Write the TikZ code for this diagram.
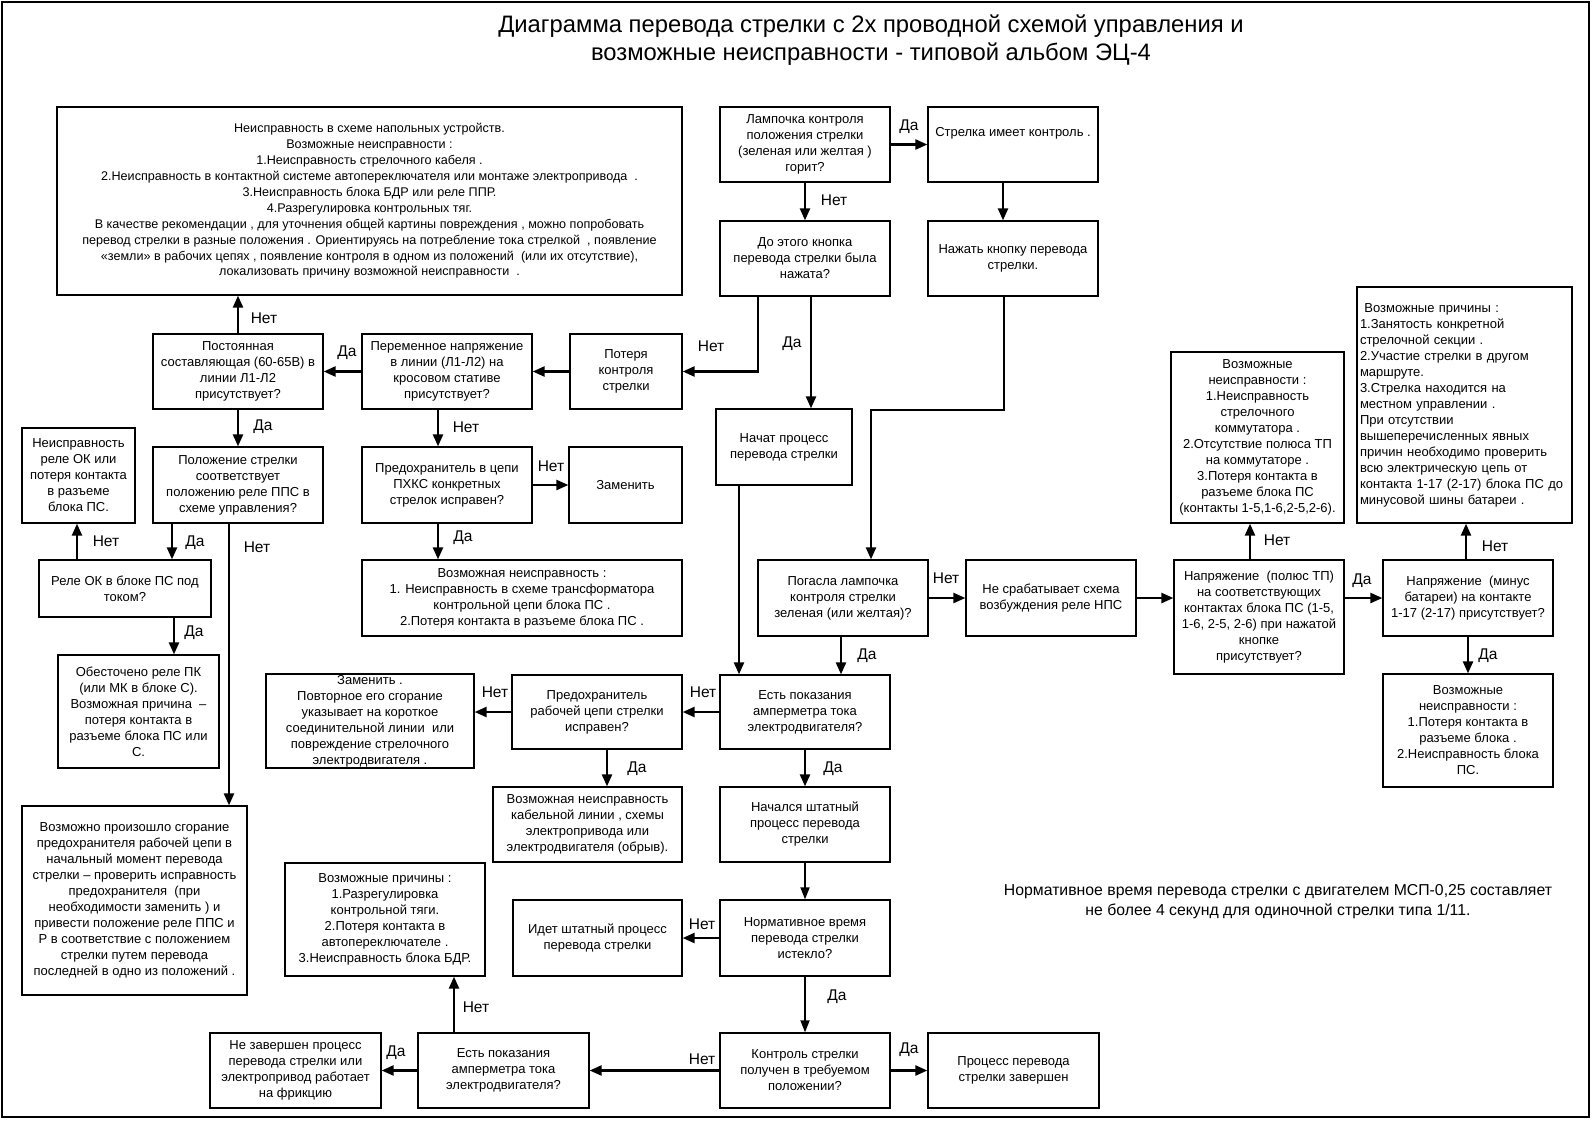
\documentclass[tikz,border=0pt]{standalone}
\usepackage{fontspec}
\setmainfont{Liberation Sans}
\usetikzlibrary{arrows.meta}

\newcommand{\boxfont}{\fontsize{13}{16}\selectfont}
\newcommand{\smallboxfont}{\fontsize{12.6}{15.9}\selectfont}
\newcommand{\labfont}{\fontsize{15.5}{18}\selectfont}
\newcommand{\titlefont}{\fontsize{23.8}{28}\selectfont}
\newcommand{\notefont}{\fontsize{15.8}{19.5}\selectfont}

\begin{document}
\begin{tikzpicture}[x=1pt, y=-1pt,
  box/.style={draw, line width=1.3pt, align=center, inner sep=2pt, font=\boxfont,
    minimum width=170, minimum height=75},
  arr/.style={line width=2.4pt, -{Triangle[length=12pt,width=10pt]}},
  arrthin/.style={line width=1.8pt, -{Triangle[length=12pt,width=9pt]}},
  lab/.style={font=\labfont, inner sep=0pt}]
\useasboundingbox (0,0) rectangle (1592,1120);
% Frame and title
\draw[line width=1.4pt] (2,2) rectangle (1589,1117);
\node[font=\titlefont, align=center] (title) at (871,40)
  {Диаграмма перевода стрелки с 2х проводной схемой управления и\\
   возможные неисправности - типовой альбом ЭЦ-4};

% Top row
\node[box, minimum width=625, minimum height=188, font=\smallboxfont] (fault) at (369.5,201)
  {Неисправность в схеме напольных устройств.\\
   Возможные неисправности :\\
   1.Неисправность стрелочного кабеля .\\
   2.Неисправность в контактной системе автопереключателя или монтаже электропривода \ .\\
   3.Неисправность блока БДР или реле ППР.\\
   4.Разрегулировка контрольных тяг.\\
   В качестве рекомендации , для уточнения общей картины повреждения , можно попробовать\\
   перевод стрелки в разные положения . Ориентируясь на потребление тока стрелкой \ , появление\\
   «земли» в рабочих цепях , появление контроля в одном из положений \ (или их отсутствие),\\
   локализовать причину возможной неисправности \ .};
\node[box] (lamp) at (805,144.5) {Лампочка контроля\\ положения стрелки\\ (зеленая или желтая )\\ горит?};
\node[box] (hasctrl) at (1013,144.5) {Стрелка имеет контроль .\\[10pt]};
\node[box] (pressed) at (805,258.5) {До этого кнопка\\ перевода стрелки была\\ нажата?};
\node[box] (press) at (1013,258.5) {Нажать кнопку перевода\\ стрелки.};

% Left part
\node[box] (dcline) at (238,371.5) {Постоянная\\ составляющая (60-65В) в\\ линии Л1-Л2\\ присутствует?};
\node[box] (acline) at (447,371.5) {Переменное напряжение\\ в линии (Л1-Л2) на\\ кросовом стативе\\ присутствует?};
\node[box, minimum width=112] (lost) at (626,371.5) {Потеря\\ контроля\\ стрелки};
\node[box, minimum width=113, minimum height=95] (okfault) at (78.5,475.5) {Неисправность\\ реле ОК или\\ потеря контакта\\ в разъеме\\ блока ПС.};
\node[box, minimum height=76] (position) at (238,485) {Положение стрелки\\ соответствует\\ положению реле ППС в\\ схеме управления?};
\node[box, minimum height=76] (fuse) at (447,485) {Предохранитель в цепи\\ ПХКС конкретных\\ стрелок исправен?};
\node[box, minimum width=113, minimum height=76] (replace) at (625.5,485) {Заменить};
\node[box, minimum width=172, minimum height=57] (okrelay) at (125,588.5) {Реле ОК в блоке ПС под\\ током?};
\node[box, minimum width=320, minimum height=76] (trafo) at (522,598)
  {Возможная неисправность :\\ 1. Неисправность в схеме трансформатора\\ контрольной цепи блока ПС .\\ 2.Потеря контакта в разъеме блока ПС .};
\node[box, minimum width=161, minimum height=113] (pk) at (138.5,711.5)
  {Обесточено реле ПК\\ (или МК в блоке С).\\ Возможная причина \ –\\ потеря контакта в\\ разъеме блока ПС или\\ С.};
\node[box, minimum width=208, minimum height=94, inner ysep=0.5pt] (replace2) at (370,721)
  {Заменить .\\ Повторное его сгорание\\ указывает на короткое\\ соединительной линии \ или\\ повреждение стрелочного\\ электродвигателя .};
\node[box, minimum width=225, minimum height=189] (burnt) at (134.5,900.5)
  {Возможно произошло сгорание\\ предохранителя рабочей цепи в\\ начальный момент перевода\\ стрелки – проверить исправность\\
   предохранителя \ (при\\ необходимости заменить ) и\\ привести положение реле ППС и\\ Р в соответствие с положением\\
   стрелки путем перевода\\ последней в одно из положений .};
\node[box, minimum width=200, minimum height=113] (rods) at (385,919.5)
  {Возможные причины :\\ 1.Разрегулировка\\ контрольной тяги.\\ 2.Потеря контакта в\\ автопереключателе .\\ 3.Неисправность блока БДР.};

% Middle column
\node[box, minimum width=136, minimum height=76] (started) at (784,447) {Начат процесс\\ перевода стрелки};
\node[box, minimum height=76] (lampoff) at (843,598) {Погасла лампочка\\ контроля стрелки\\ зеленая (или желтая)?};
\node[box, minimum height=74] (workfuse) at (597,712) {Предохранитель\\ рабочей цепи стрелки\\ исправен?};
\node[box, minimum height=74] (amp) at (805,712) {Есть показания\\ амперметра тока\\ электродвигателя?};
\node[box, minimum width=189] (cable) at (587.5,824.5)
  {Возможная неисправность\\ кабельной линии , схемы\\ электропривода или\\ электродвигателя (обрыв).};
\node[box] (normal) at (805,824.5) {Начался штатный\\ процесс перевода\\ стрелки};
\node[box, minimum width=169, minimum height=76] (going) at (597.5,938) {Идет штатный процесс\\ перевода стрелки};
\node[box, minimum height=76] (time) at (805,938) {Нормативное время\\ перевода стрелки\\ истекло?};
\node[box, minimum width=171] (friction) at (295.5,1070.5) {Не завершен процесс\\ перевода стрелки или\\ электропривод работает\\ на фрикцию};
\node[box, minimum width=171] (amp2) at (503.5,1070.5) {Есть показания\\ амперметра тока\\ электродвигателя?};
\node[box] (check) at (805,1070.5) {Контроль стрелки\\ получен в требуемом\\ положении?};
\node[box, minimum width=171] (done) at (1013.5,1070.5) {Процесс перевода\\ стрелки завершен};

% Right part
\node[box, minimum height=76] (nps) at (1051,598) {Не срабатывает схема\\ возбуждения реле НПС};
\node[box, minimum height=114] (tpvolt) at (1259,617)
  {Напряжение \ (полюс ТП)\\ на соответствующих\\ контактах блока ПС (1-5,\\ 1-6, 2-5, 2-6) при нажатой\\ кнопке\\ присутствует?};
\node[box, minimum height=76] (minus) at (1468,598) {Напряжение \ (минус\\ батареи) на контакте\\ 1-17 (2-17) присутствует?};
\node[box, minimum width=173, minimum height=171] (commut) at (1257.5,437.5)
  {Возможные\\ неисправности :\\ 1.Неисправность\\ стрелочного\\ коммутатора .\\ 2.Отсутствие полюса ТП\\ на коммутаторе .\\
   3.Потеря контакта в\\ разъеме блока ПС\\ (контакты 1-5,1-6,2-5,2-6).};
\node[box, minimum width=215, minimum height=236, align=left, text width=209, inner xsep=3pt] (reasons) at (1464.5,405)
  {\ Возможные причины :\\ 1.Занятость конкретной\\ стрелочной секции .\\ 2.Участие стрелки в другом\\ маршруте.\\
   3.Стрелка находится на\\ местном управлении .\\ При отсутствии\\ вышеперечисленных явных\\ причин необходимо проверить\\
   всю электрическую цепь от\\ контакта 1-17 (2-17) блока ПС до\\ минусовой шины батареи .};
\node[box, minimum height=113] (block) at (1468,730.5)
  {Возможные\\ неисправности :\\ 1.Потеря контакта в\\ разъеме блока .\\ 2.Неисправность блока\\ ПС.};
\node[font=\notefont, align=center] (note) at (1278,901.5)
  {Нормативное время перевода стрелки с двигателем МСП-0,25 составляет\\ не более 4 секунд для одиночной стрелки типа 1/11.};

% Connectors of the upper part
\coordinate (bend) at (871,410);
\draw[arr] (lamp) -- (hasctrl);
\draw[arr] (lamp) -- (pressed);
\draw[arr] ([xshift=-10]hasctrl.south) -- ([xshift=-10]press.north);
\draw[arr] ([xshift=-9]press.south) |- (bend) -- (bend |- lampoff.north);
\draw[arr] ([xshift=-47]pressed.south) |- (lost.east);
\draw[arr] ([xshift=6]pressed.south) -- ([xshift=6]pressed.south |- started.north);
\draw[arr] (lost) -- (acline);
\draw[arr] (acline) -- (dcline);
\draw[arr] (dcline.north) -- (dcline.north |- fault.south);
\draw[arr] (dcline) -- (position);
\draw[arr] ([xshift=-9]acline.south) -- ([xshift=-9]fuse.north);
\draw[arr] (fuse) -- (replace);
\draw[arr] ([xshift=-9]fuse.south) -- ([xshift=-9]fuse.south |- trafo.north);
\draw[arr] ([xshift=-66]position.south) -- ([xshift=-66]position.south |- okrelay.north);
\draw[arr] ([xshift=-9]position.south) -- ([xshift=-9]position.south |- burnt.north);
\draw[arr] ([xshift=-48]okrelay.north) -- ([xshift=-48]okrelay.north |- okfault.south);
\draw[arr] ([xshift=49]okrelay.south) -- ([xshift=49]okrelay.south |- pk.north);

% Connectors of the lower part
\draw[arr] ([xshift=-45]started.south) -- ([xshift=-45]started.south |- amp.north);
\draw[arr] ([xshift=-2]lampoff.south) -- ([xshift=-2]lampoff.south |- amp.north);
\draw[arr] (lampoff) -- (nps);
\draw[arr] (nps.east) -- (nps.east -| tpvolt.west);
\draw[arr] (minus.west -| tpvolt.east) -- (minus.west);
\draw[arr] ([xshift=-9]tpvolt.north) -- ([xshift=-9]tpvolt.north |- commut.south);
\draw[arr] ([xshift=-2]minus.north) -- ([xshift=-2]minus.north |- reasons.south);
\draw[arr] (minus) -- (block);
\draw[arr] (amp) -- (workfuse);
\draw[arr] (workfuse.west) -- (workfuse.west -| replace2.east);
\draw[arr] ([xshift=10]workfuse.south) -- ([xshift=10]workfuse.south |- cable.north);
\draw[arr] (amp) -- (normal);
\draw[arrthin] (normal) -- (time);
\draw[arr] (time) -- (going);
\draw[arrthin] (time) -- (check);
\draw[arr] (check) -- (amp2);
\draw[arr] (check) -- (done);
\draw[arr] (amp2) -- (friction);
\draw[arr] ([xshift=-49.5]amp2.north) -- ([xshift=-49.5]amp2.north |- rods.south);

% Label the branches
\node[lab] (yctrl) at (909,127) {Да};
\node[lab] (nlamp) at (834,200) {Нет};
\node[lab] (npress) at (711,346) {Нет};
\node[lab] (ypress) at (792,344) {Да};
\node[lab] (yac) at (347,353) {Да};
\node[lab] (ndc) at (264,318) {Нет};
\node[lab] (ydc) at (263,427) {Да};
\node[lab] (nac) at (466,427) {Нет};
\node[lab] (nfuse) at (551,466) {Нет};
\node[lab] (yfuse) at (463,538) {Да};
\node[lab] (ypos) at (195,543) {Да};
\node[lab] (npos) at (257,547) {Нет};
\node[lab] (nok) at (106,541) {Нет};
\node[lab] (yok) at (194,633) {Да};
\node[lab] (yoff) at (867,656) {Да};
\node[lab] (noff) at (946,578) {Нет};
\node[lab] (ytp) at (1362,581) {Да};
\node[lab] (ntp) at (1277,540) {Нет};
\node[lab] (nminus) at (1495,546) {Нет};
\node[lab] (yminus) at (1488,656) {Да};
\node[lab] (namp) at (703,692) {Нет};
\node[lab] (nwork) at (495,692) {Нет};
\node[lab] (ywork) at (637,769) {Да};
\node[lab] (yamp) at (833,769) {Да};
\node[lab] (ntime) at (702,924) {Нет};
\node[lab] (ytime) at (837,997) {Да};
\node[lab] (ncheck) at (702,1059) {Нет};
\node[lab] (ycheck) at (909,1050) {Да};
\node[lab] (yamp2) at (396,1053) {Да};
\node[lab] (namp2) at (476,1007) {Нет};
\end{tikzpicture}
\end{document}
